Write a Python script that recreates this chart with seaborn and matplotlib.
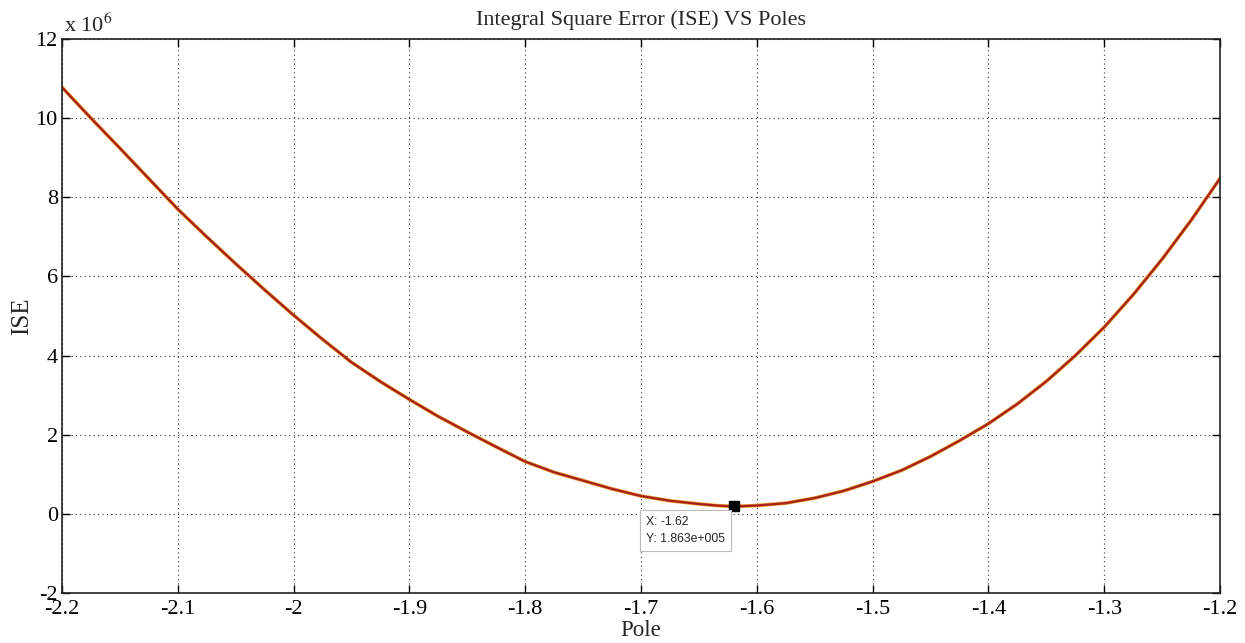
import numpy as np
import pandas as pd
import matplotlib
matplotlib.use("Agg")
import matplotlib.pyplot as plt
from matplotlib.ticker import FuncFormatter, MultipleLocator
import seaborn as sns

# Pole locations swept and the resulting integral square error
poles = [-2.200, -2.175, -2.150, -2.125, -2.100, -2.075, -2.050, -2.025, -2.000,
         -1.975, -1.950, -1.925, -1.900, -1.875, -1.850, -1.825, -1.800, -1.775,
         -1.750, -1.725, -1.700, -1.675, -1.650, -1.635, -1.620, -1.600, -1.575,
         -1.550, -1.525, -1.500, -1.475, -1.450, -1.425, -1.400, -1.375, -1.350,
         -1.325, -1.300, -1.275, -1.250, -1.225, -1.200]
ise = [10.78e6, 10.00e6, 9.24e6, 8.47e6, 7.70e6, 7.00e6, 6.32e6, 5.66e6, 5.02e6,
       4.41e6, 3.83e6, 3.34e6, 2.89e6, 2.46e6, 2.07e6, 1.69e6, 1.32e6, 1.05e6,
       0.84e6, 0.63e6, 0.45e6, 0.33e6, 0.25e6, 0.21e6, 0.1863e6, 0.21e6, 0.27e6,
       0.40e6, 0.58e6, 0.82e6, 1.10e6, 1.45e6, 1.85e6, 2.28e6, 2.78e6, 3.35e6,
       4.00e6, 4.72e6, 5.54e6, 6.44e6, 7.42e6, 8.48e6]

tip_x = -1.62
tip_y = 1.863e5

df = pd.DataFrame({"Pole": poles, "ISE": ise})

sns.set_theme(style="white")
plt.rcParams["font.family"] = ["Liberation Serif", "DejaVu Serif"]
plt.rcParams["mathtext.fontset"] = "stix"

fig = plt.figure(figsize=(12.45, 6.43), dpi=100)
ax = fig.add_axes([0.0498, 0.0778, 0.9302, 0.8615])

# orange halo under a dark red trace
sns.lineplot(data=df, x="Pole", y="ISE", ax=ax, color="#e89a2c", linewidth=2.6)
sns.lineplot(data=df, x="Pole", y="ISE", ax=ax, color="#a8201a", linewidth=1.6)

ax.set_xlim(-2.2, -1.2)
ax.set_ylim(-2e6, 12e6)
ax.xaxis.set_major_locator(MultipleLocator(0.1))
ax.yaxis.set_major_locator(MultipleLocator(2e6))
ax.xaxis.set_major_formatter(FuncFormatter(lambda v, p: f"{v:.1f}".rstrip("0").rstrip(".")))
ax.yaxis.set_major_formatter(FuncFormatter(lambda v, p: f"{v/1e6:g}"))

ax.grid(True, color="#333333", linestyle=(0, (1, 3)), linewidth=0.8)
ax.tick_params(direction="in", length=6, width=1, labelsize=16, colors="black",
               top=True, right=True, bottom=True, left=True, pad=3)
ax.tick_params(axis="x", pad=5)
for s in ax.spines.values():
    s.set_color("#222222")
    s.set_linewidth(1.2)

ax.set_title("Integral Square Error (ISE) VS Poles", fontsize=16, pad=10)
ax.set_xlabel("Pole", fontsize=16.5, labelpad=1)
ax.set_ylabel("ISE", fontsize=18, labelpad=2)

ax.text(0.002, 1.004, r"x 10$^{6}$", transform=ax.transAxes, fontsize=16,
        ha="left", va="bottom")

# data tip at the minimum
ax.plot([tip_x], [tip_y], marker="s", color="black", markersize=7, zorder=5)
ax.annotate(f"X: {tip_x:g}\nY: 1.863e+005", xy=(tip_x, tip_y),
            xytext=(-9, -10), textcoords="offset pixels", ha="right", va="top",
            multialignment="left", fontsize=8.8,
            family=["Liberation Sans", "DejaVu Sans"], linespacing=1.5,
            bbox=dict(boxstyle="square,pad=0.5", fc="white", ec="#bbbbbb", lw=0.8),
            zorder=6)

fig.savefig("out.png", dpi=100, facecolor="white")
